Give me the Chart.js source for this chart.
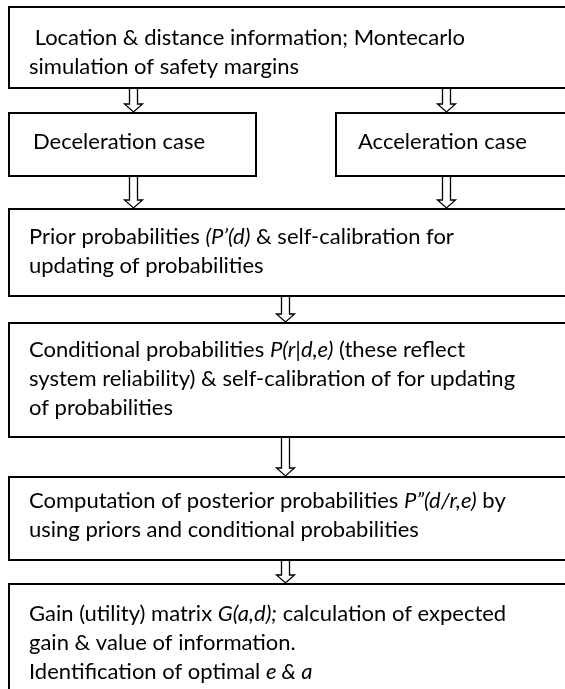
<!DOCTYPE html>
<html>
<head>
<meta charset="utf-8">
<script src="https://cdn.jsdelivr.net/npm/chart.js@4"></script>
<style>
  html, body { margin: 0; padding: 0; background: #fff; }
  #chart { display: block; }
</style>
</head>
<body>
<canvas id="chart" width="565" height="689"></canvas>
<script>
// box contents, *...* marks italic runs
const boxText = [
    [' Location & distance information; Montecarlo', 'simulation of safety margins'],
    ['Deceleration case'],
    ['Acceleration case'],
    ['Prior probabilities *(P’(d)* & self-calibration for', 'updating of probabilities'],
    ['Conditional probabilities *P(r|d,e)* (these reflect', 'system reliability) & self-calibration of for updating', 'of probabilities'],
    ['Computation of posterior probabilities *P”(d/r,e)* by', 'using priors and conditional probabilities'],
    ['Gain (utility) matrix *G(a,d);* calculation of expected', 'gain & value of information.', 'Identification of optimal *e & a*'],
];

// arrows: which box flows into which
const arrowFrom = [0, 0, 1, 2, 3, 4, 5];
const arrowTo   = [1, 2, 3, 3, 4, 5, 6];

// layout (in the hidden scale units)
const boxLeft   = [9, 9, 336, 9, 9, 9, 9];
const boxRight  = [570, 256, 570, 570, 570, 570, 570];
const boxTop    = [7, 113, 113, 209, 323, 477, 584];
const boxBottom = [88, 176, 176, 296, 437, 560, 700];
const textLeft  = [29, 33, 358, 29, 29, 29, 29];
const textFirst = [38, 142, 142, 237, 350, 501, 614];
const arrowX    = [133, 446, 133, 446, 285, 285, 285];
const lineGap = 29;
const fontFamily = 'Lato, "Open Sans", sans-serif';
const fontSize = 22;

const flowPlugin = {
    id: 'flow',
    afterDraw(chart) {
        const ctx = chart.ctx;
        const xs = chart.scales.x, ys = chart.scales.y;
        const px = v => Math.round(xs.getPixelForValue(v));
        const py = v => Math.round(ys.getPixelForValue(v));
        ctx.save();
        ctx.strokeStyle = '#000';
        ctx.fillStyle = '#000';

        // boxes
        ctx.lineWidth = 2;
        boxText.forEach((lines, i) => {
            const x0 = px(boxLeft[i]), x1 = px(boxRight[i]);
            const y0 = py(boxTop[i]), y1 = py(boxBottom[i]);
            ctx.strokeRect(x0, y0, x1 - x0, y1 - y0);

            ctx.textBaseline = 'middle';
            ctx.fillStyle = '#000';
            lines.forEach((line, j) => {
                let x = px(textLeft[i]);
                const y = ys.getPixelForValue(textFirst[i] + j * lineGap);
                line.split('*').forEach((part, k) => {
                    ctx.font = (k % 2 ? 'italic ' : '') + fontSize + 'px ' + fontFamily;
                    ctx.fillText(part, x, y);
                    x += ctx.measureText(part).width;
                });
            });
        });

        // hollow arrows
        ctx.lineWidth = 1.3;
        arrowFrom.forEach((f, i) => {
            const cx = px(arrowX[i]) + 0.5;
            const top = ys.getPixelForValue(boxBottom[f]) + 1;
            const tip = ys.getPixelForValue(boxTop[arrowTo[i]]) - 1;
            const shaft = 4, head = 9, headH = 8;
            const neck = tip - headH;
            ctx.beginPath();
            ctx.moveTo(cx - shaft, top);
            ctx.lineTo(cx - shaft, neck);
            ctx.lineTo(cx - head, neck);
            ctx.lineTo(cx, tip);
            ctx.lineTo(cx + head, neck);
            ctx.lineTo(cx + shaft, neck);
            ctx.lineTo(cx + shaft, top);
            ctx.fillStyle = '#fff';
            ctx.fill();
            ctx.stroke();
        });
        ctx.restore();
    }
};

new Chart(document.getElementById('chart'), {
    type: 'scatter',
    data: {
        datasets: [{
            data: boxText.map((_, i) => ({ x: (boxLeft[i] + boxRight[i]) / 2, y: (boxTop[i] + boxBottom[i]) / 2 })),
            pointRadius: 0,
            showLine: false
        }]
    },
    options: {
        responsive: false,
        animation: false,
        devicePixelRatio: 1,
        layout: { padding: 0 },
        plugins: { legend: { display: false }, tooltip: { enabled: false } },
        scales: {
            x: { type: 'linear', min: 0, max: 565, display: false },
            y: { type: 'linear', min: 0, max: 689, reverse: true, display: false }
        }
    },
    plugins: [flowPlugin]
});
</script>
</body>
</html>
